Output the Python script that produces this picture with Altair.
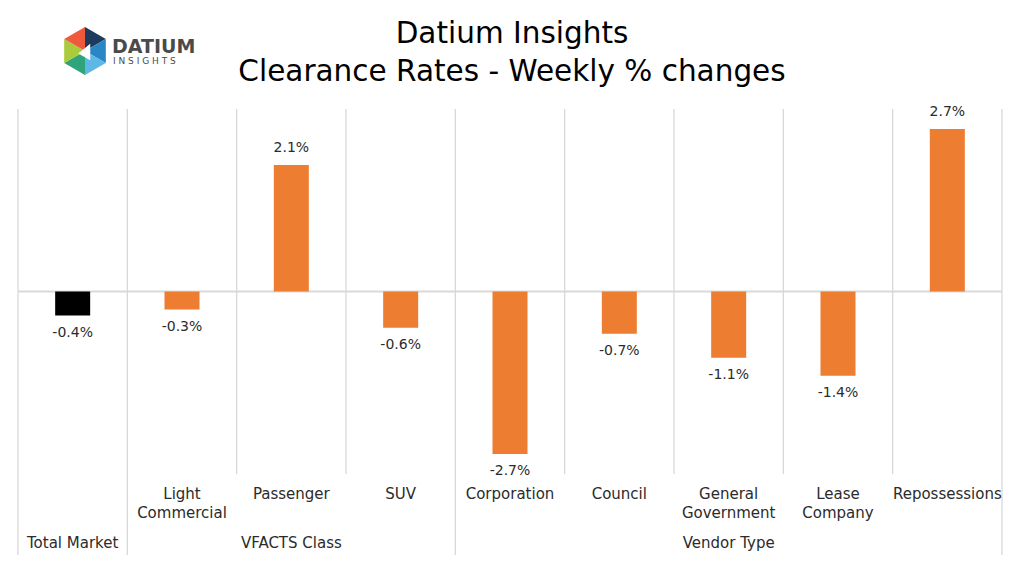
import altair as alt
import pandas as pd

# Weekly % change in clearance rates by segment
categories = [
    "Total Market", "Light\nCommercial", "Passenger", "SUV", "Corporation",
    "Council", "General\nGovernment", "Lease\nCompany", "Repossessions",
]
changes = [-0.4, -0.3, 2.1, -0.6, -2.7, -0.7, -1.1, -1.4, 2.7]
kinds = ["total"] + ["segment"] * 8

groups = ["Total Market", "VFACTS Class", "Vendor Type"]
group_starts = [0, 1, 4]
group_ends = [1, 4, 9]

inner_edges = [2, 3, 5, 6, 7, 8]
group_edges = [0, 1, 4, 9]

title_lines = ["Datium Insights", "Clearance Rates - Weekly % changes"]

FONT = "DejaVu Sans"
TEXT = "#2B2B2B"
GRID = "#D9D9D9"
W, H = 984, 365

bars = pd.DataFrame({"cat": categories, "v": changes, "kind": kinds,
                     "pos": [i + 0.5 for i in range(len(categories))]})
grp = pd.DataFrame({"g": groups, "s": group_starts, "e": group_ends})

xs = alt.Scale(domain=[0, 9], nice=False, zero=False, padding=0)
ys = alt.Scale(domain=[-3.03, 3.03], nice=False, padding=0)

base = alt.Chart(bars)

inner_rules = alt.Chart(pd.DataFrame({"x": inner_edges})).mark_rule(
    color=GRID, strokeWidth=1.3
).encode(x=alt.X("x:Q", scale=xs, axis=None), y=alt.value(0), y2=alt.value(H))

outer_rules = alt.Chart(pd.DataFrame({"x": group_edges})).mark_rule(
    color=GRID, strokeWidth=1.3
).encode(x=alt.X("x:Q", scale=xs, axis=None), y=alt.value(0), y2=alt.value(446))

zero_line = alt.Chart(pd.DataFrame({"z": [0]})).mark_rule(
    color=GRID, strokeWidth=2
).encode(y=alt.Y("z:Q", scale=ys, axis=None), x=alt.value(0), x2=alt.value(W))

bar_layer = base.mark_bar(width=35).encode(
    x=alt.X("pos:Q", scale=xs, axis=None),
    y=alt.Y("v:Q", scale=ys, axis=None),
    y2=alt.datum(0),
    color=alt.Color("kind:N", scale=alt.Scale(domain=["total", "segment"],
                                              range=["#000000", "#ED7D31"]),
                    legend=None),
)

label_base = base.transform_calculate(
    label="(datum.v < 0 ? '-' : '') + format(abs(datum.v), '.1f') + '%'"
)
pos_labels = label_base.transform_filter("datum.v >= 0").mark_text(
    font=FONT, fontSize=14, color=TEXT, baseline="middle", dy=-17
).encode(x=alt.X("pos:Q", scale=xs), y=alt.Y("v:Q", scale=ys), text="label:N")
neg_labels = label_base.transform_filter("datum.v < 0").mark_text(
    font=FONT, fontSize=14, color=TEXT, baseline="middle", dy=17
).encode(x=alt.X("pos:Q", scale=xs), y=alt.Y("v:Q", scale=ys), text="label:N")

# Segment names (the total bar is named by its group label below)
cat_labels = base.transform_filter("datum.kind != 'total'").mark_text(
    font=FONT, fontSize=15, color=TEXT, baseline="middle", lineBreak="\n",
    lineHeight=19
).encode(x=alt.X("pos:Q", scale=xs), y=alt.value(385), text="cat:N")

grp_labels = alt.Chart(grp).transform_calculate(
    mid="(datum.s + datum.e) / 2"
).mark_text(font=FONT, fontSize=15, color=TEXT, baseline="middle").encode(
    x=alt.X("mid:Q", scale=xs), y=alt.value(434), text="g:N"
)

# Two-line heading above the plot
title_layers = [
    alt.Chart(pd.DataFrame({"t": [line]})).mark_text(
        font=FONT, fontSize=29.5, color="#000000", baseline="middle"
    ).encode(x=alt.value(494), y=alt.value(yy), text="t:N")
    for line, yy in zip(title_lines, [-75, -37])
]

# Logo: hexagon of coloured triangles with the wordmark beside it
hex_paths = [
    "M0,0L0,-1L0.866,-0.5Z",
    "M0,0L0.866,-0.5L0.866,0.5Z",
    "M0,0L0.866,0.5L0,1Z",
    "M0,0L0,1L-0.866,0.5Z",
    "M0,0L-0.866,0.5L-0.866,-0.5Z",
    "M0,0L-0.866,-0.5L0,-1Z",
]
hex_colors = ["#1E3A5C", "#2B86C5", "#5DB8E6", "#2FA37A", "#A9CB3C", "#F05A3C"]
logo_layers = []
for p, c in zip(hex_paths, hex_colors):
    logo_layers.append(
        alt.Chart(pd.DataFrame({"a": [0]})).mark_point(
            shape=p, filled=True, color=c, opacity=1, size=2304, strokeWidth=0
        ).encode(x=alt.value(67), y=alt.value(-58))
    )
logo_layers.append(
    alt.Chart(pd.DataFrame({"a": [0]})).mark_point(
        shape="M0.35,-0.55L0.35,0.55L-0.45,0.1Z", filled=True, color="white",
        opacity=1, size=900, strokeWidth=0
    ).encode(x=alt.value(67), y=alt.value(-57))
)
logo_text = alt.Chart(pd.DataFrame({"t": ["DATIUM"]})).mark_text(
    font=FONT, fontSize=19, fontWeight="bold", color="#4A4A4A", align="left",
    baseline="middle"
).encode(x=alt.value(94), y=alt.value(-62), text="t:N")
logo_sub = alt.Chart(pd.DataFrame({"t": ["I  N  S  I  G  H  T  S"]})).mark_text(
    font=FONT, fontSize=9, color="#4A4A4A", align="left", baseline="middle"
).encode(x=alt.value(95), y=alt.value(-48), text="t:N")

chart = alt.layer(
    inner_rules, outer_rules, zero_line, bar_layer, pos_labels, neg_labels,
    cat_labels, grp_labels, *title_layers, *logo_layers, logo_text, logo_sub
).properties(
    width=W, height=H,
    padding={"left": 18, "top": 109, "right": 22, "bottom": 87},
    autosize=alt.AutoSizeParams(type="none"),
).configure_view(stroke=None)

chart.save("out.html", embed_options={"renderer": "svg", "actions": False})
